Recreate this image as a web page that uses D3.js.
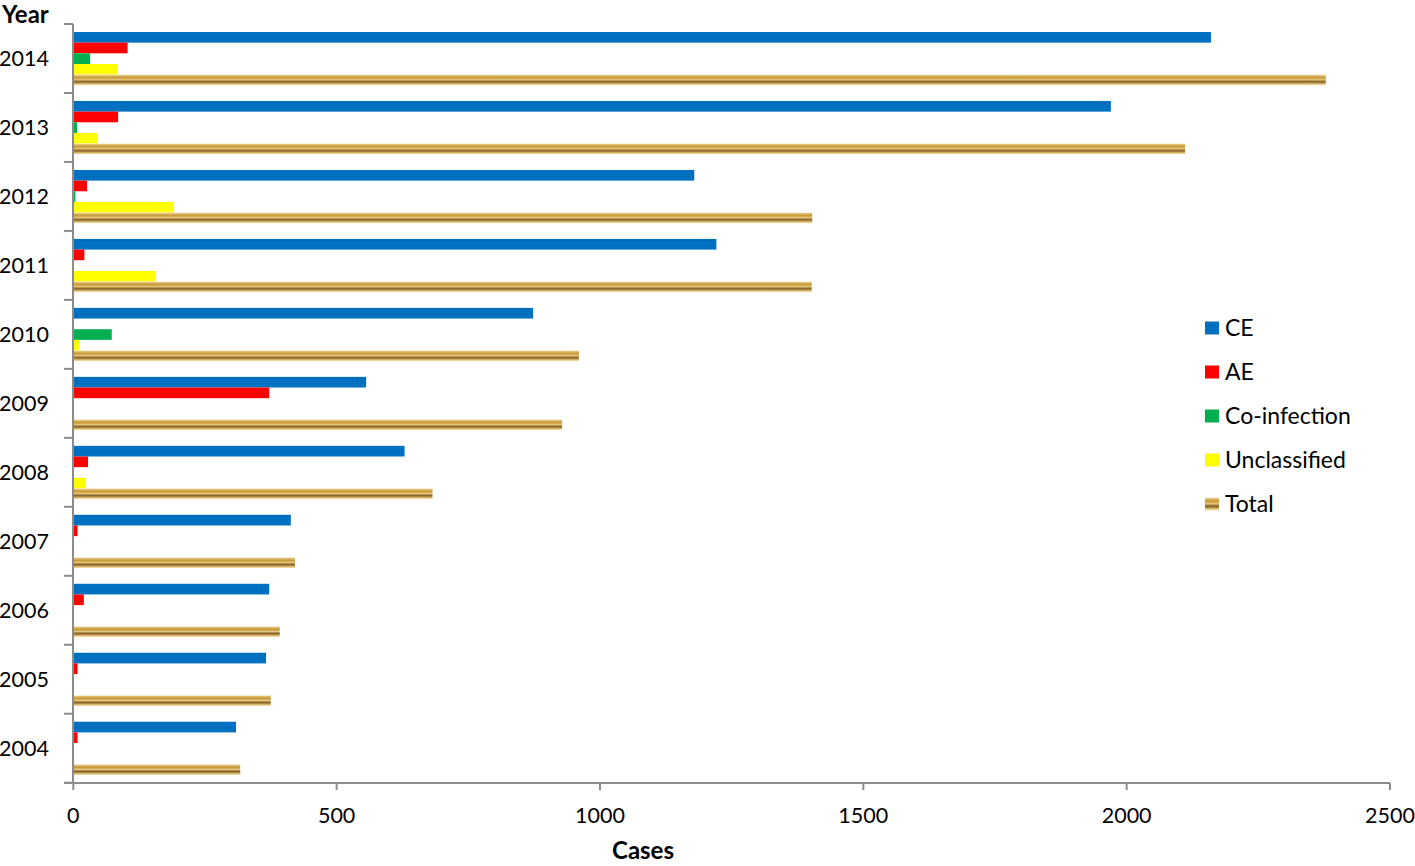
<!DOCTYPE html>
<html><head><meta charset="utf-8">
<script src="https://cdn.jsdelivr.net/npm/d3@7"></script>
<style>
body{margin:0;background:#fff;}
svg{display:block;font-family:Lato,"Open Sans",sans-serif;}
</style></head>
<body><svg id="c" width="1415" height="866"></svg>
<script>
const years = ["2014","2013","2012","2011","2010","2009","2008","2007","2006","2005","2004"];
const seriesNames = ["CE","AE","Co-infection","Unclassified","Total"];
const ce           = [2160,1970,1179,1221,873,556,629,413,372,366,309];
const ae           = [103,85,26,21,0,372,28,8,20,8,8];
const coinfection  = [32,7,4,0,73,0,0,0,0,0,0];
const unclassified = [83,46,191,157,11,0,24,0,0,0,0];
const total        = [2378,2111,1403,1402,960,928,682,421,392,375,317];
const xTicks = [0,500,1000,1500,2000,2500];

const seriesValues = [ce, ae, coinfection, unclassified, total];
const fills = ["url(#pCE)","#ff0000","#00b050","#ffff00","url(#gTot)"];
const legendFills = ["url(#pCE)","#ff0000","#00b050","#ffff00","url(#gTotL)"];

const svg = d3.select("#c");
const defs = svg.append("defs");
const pat = defs.append("pattern").attr("id","pCE").attr("patternUnits","userSpaceOnUse")
  .attr("width",4).attr("height",10.6);
pat.append("rect").attr("width",4).attr("height",10.6).attr("fill","#0070c0");
pat.append("rect").attr("x",1).attr("y",6.8).attr("width",1).attr("height",1).attr("fill","#1a3a5a");

function gold(id){
  const g = defs.append("linearGradient").attr("id",id).attr("x1",0).attr("x2",0).attr("y1",0).attr("y2",1);
  [[0,"#f2e2b8"],[0.12,"#dcb464"],[0.3,"#c89a36"],[0.48,"#e4c67e"],[0.58,"#b08a3e"],[0.68,"#7e6030"],[0.8,"#c79c48"],[0.92,"#e8d094"],[1,"#f6ead0"]]
    .forEach(s=>g.append("stop").attr("offset",s[0]).attr("stop-color",s[1]));
}
gold("gTot"); gold("gTotL");

const x = d3.scaleLinear().domain([0,2500]).range([73.3,1390]);
const y = d3.scaleBand().domain(years).range([24,782.7]).padding(0);
const ys = d3.scaleBand().domain(seriesNames).range([8,61.3]).padding(0);

// bars
seriesNames.forEach((s,si)=>{
  svg.append("g").selectAll("rect").data(years.map((yr,i)=>({yr,v:seriesValues[si][i]})).filter(d=>d.v>0))
    .join("rect")
    .attr("x",x(0))
    .attr("y",d=>y(d.yr)+ys(s))
    .attr("width",d=>x(d.v)-x(0))
    .attr("height",ys.bandwidth())
    .attr("fill",fills[si]);
});

// y axis
const axCol = "#8c8c8c";
const yAx = svg.append("g");
yAx.append("line").attr("x1",73).attr("x2",73).attr("y1",y.range()[0]).attr("y2",y.range()[1]).attr("stroke",axCol).attr("stroke-width",2);
const bounds = years.map(d=>y(d)).concat([y.range()[1]]);
yAx.selectAll("line.t").data(bounds).join("line").attr("class","t")
  .attr("x1",64).attr("x2",73).attr("y1",d=>d).attr("y2",d=>d).attr("stroke",axCol).attr("stroke-width",2);
yAx.selectAll("text").data(years).join("text")
  .attr("x",49).attr("y",d=>y(d)+y.bandwidth()/2+7.5)
  .attr("text-anchor","end").attr("font-size",21.5).attr("fill","#000").text(d=>d);

// x axis
const xAx = svg.append("g");
xAx.append("line").attr("x1",64).attr("x2",1390).attr("y1",783).attr("y2",783).attr("stroke",axCol).attr("stroke-width",2);
xAx.selectAll("line.t").data(xTicks).join("line").attr("class","t")
  .attr("x1",d=>x(d)).attr("x2",d=>x(d)).attr("y1",783).attr("y2",790).attr("stroke",axCol).attr("stroke-width",2);
xAx.selectAll("text").data(xTicks).join("text")
  .attr("x",d=>x(d)).attr("y",823).attr("text-anchor","middle").attr("font-size",21.5).attr("fill","#000").text(d=>d);

// titles
svg.append("text").attr("x",2).attr("y",23).attr("font-size",24).attr("font-weight","bold").text("Year");
svg.append("text").attr("x",643).attr("y",859).attr("text-anchor","middle").attr("font-size",24).attr("font-weight","bold").text("Cases");

// legend
const lg = svg.append("g");
seriesNames.forEach((s,i)=>{
  const cy = 328 + i*44;
  lg.append("rect").attr("x",1205).attr("y",cy-6.5).attr("width",14).attr("height",13).attr("fill",legendFills[i]);
  lg.append("text").attr("x",1225).attr("y",cy+8).attr("font-size",23).attr("fill","#000").text(s);
});
</script></body></html>
